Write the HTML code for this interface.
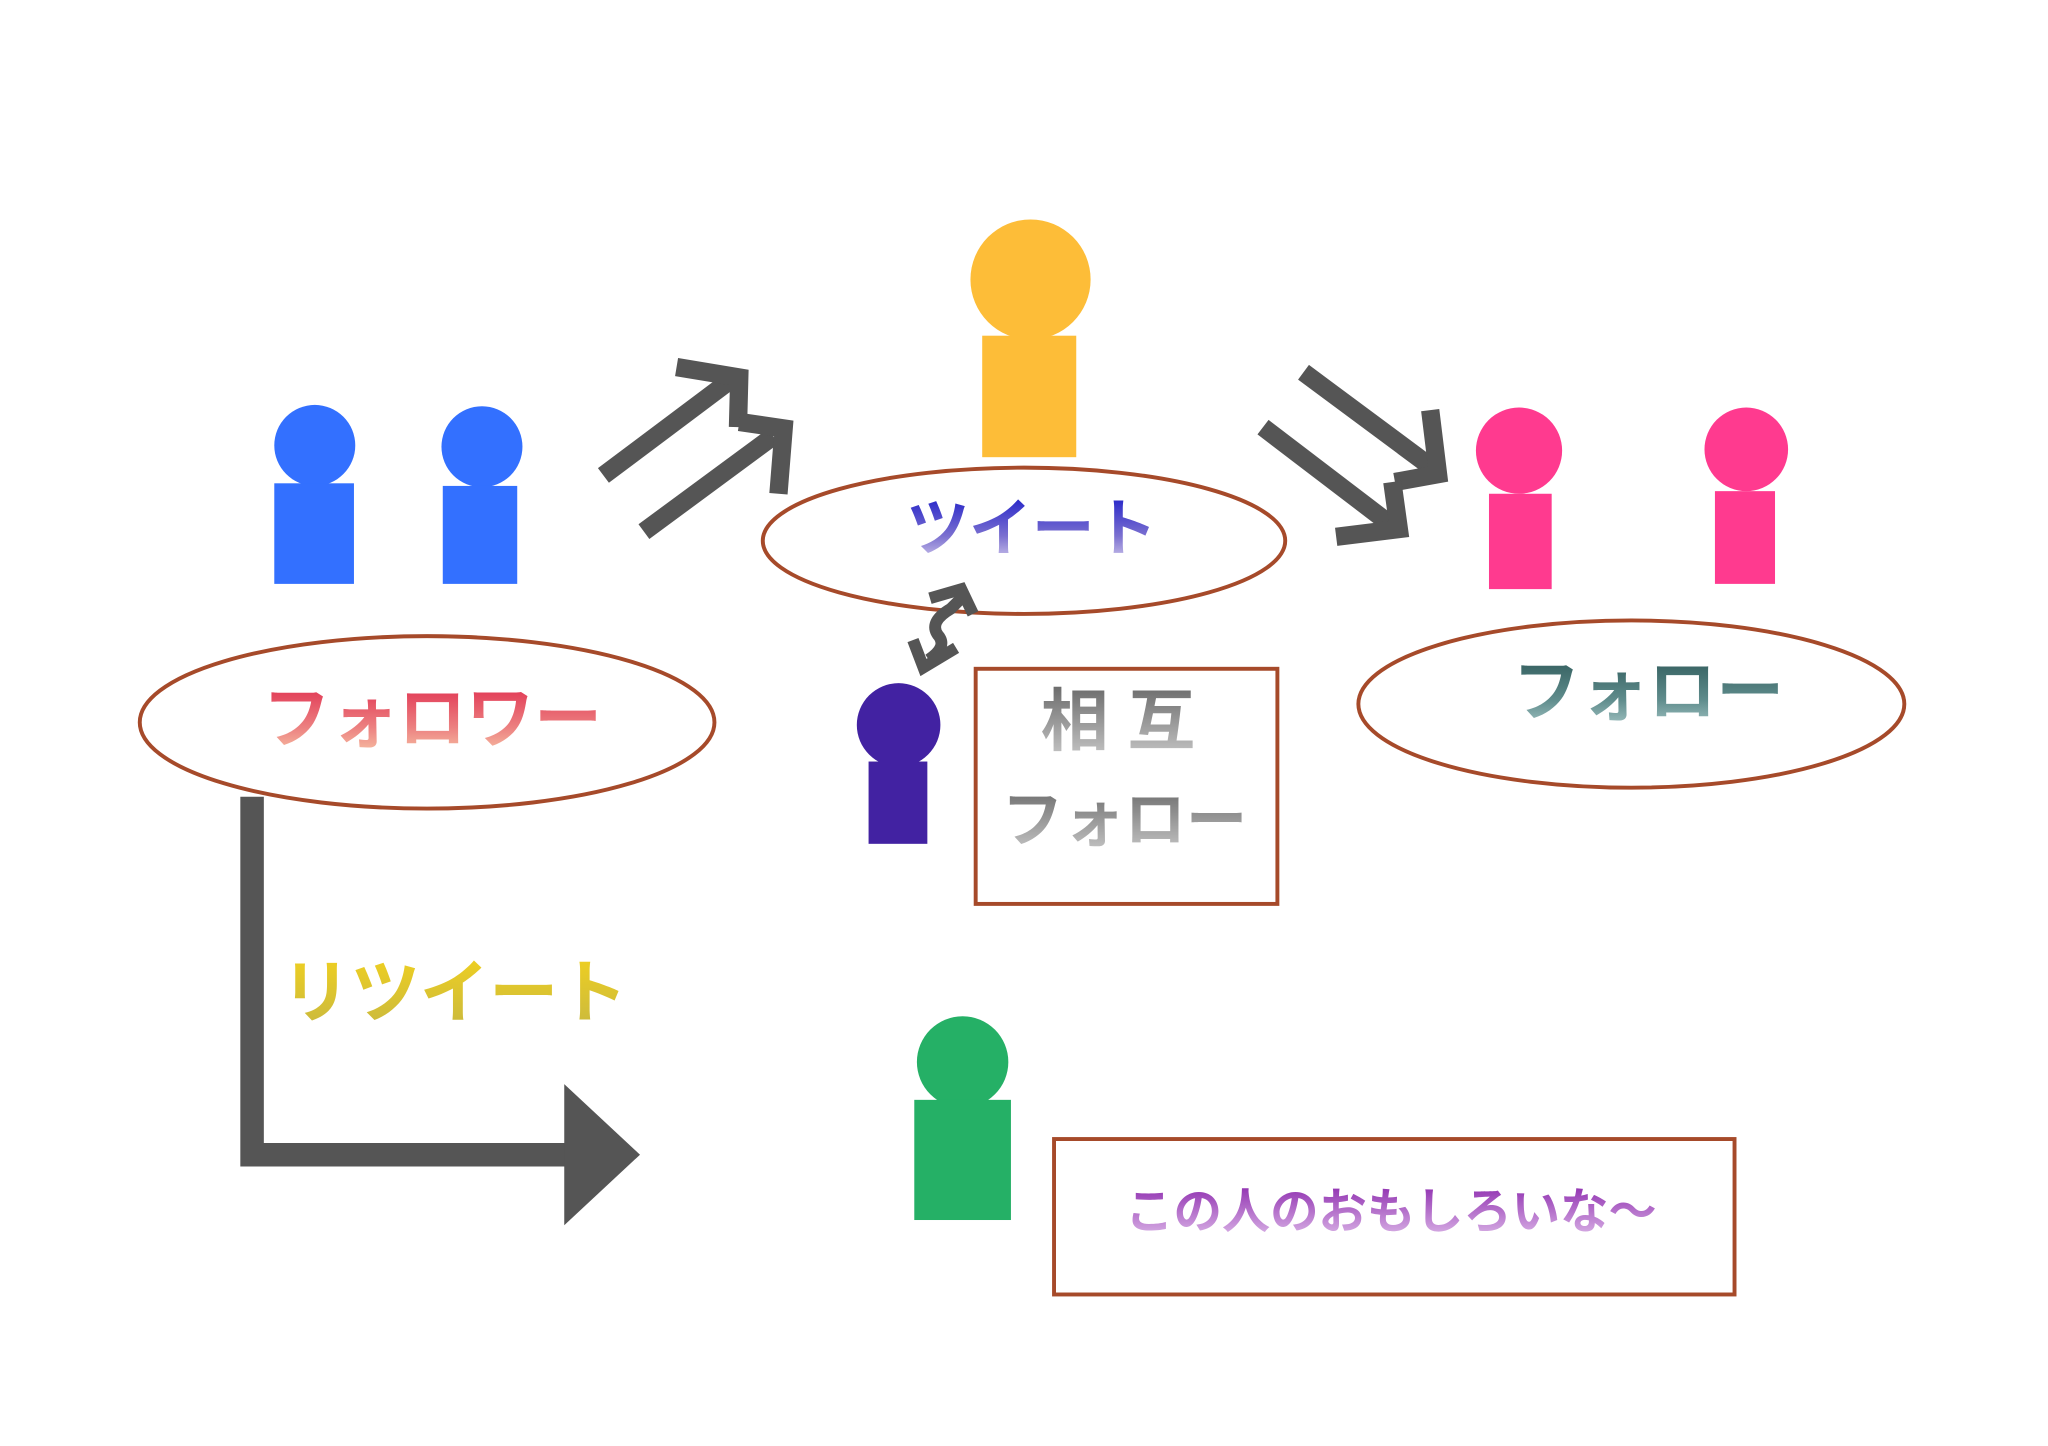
<!DOCTYPE html>
<html><head><meta charset="utf-8"><style>
html,body{margin:0;padding:0;background:#fff;width:2048px;height:1446px;overflow:hidden}
svg{display:block}
text{font-family:"Liberation Sans","Noto Sans CJK JP",sans-serif;text-anchor:middle;dominant-baseline:central;font-weight:bold}
</style></head><body>
<svg width="2048" height="1446" viewBox="0 0 1568 1107" preserveAspectRatio="none" xmlns="http://www.w3.org/2000/svg">
<defs>
<linearGradient id="gBlue" x1="0" y1="0" x2="0" y2="1"><stop offset="0" stop-color="#2020c8"/><stop offset="0.6" stop-color="#7b70d0"/><stop offset="1" stop-color="#d8d0ee"/></linearGradient>
<linearGradient id="gRed" x1="0" y1="0" x2="0" y2="1"><stop offset="0" stop-color="#e03050"/><stop offset="0.6" stop-color="#ec8080"/><stop offset="1" stop-color="#f8c8a8"/></linearGradient>
<linearGradient id="gTeal" x1="0" y1="0" x2="0" y2="1"><stop offset="0" stop-color="#2f5a5a"/><stop offset="0.6" stop-color="#5f8c8c"/><stop offset="1" stop-color="#a8c8c8"/></linearGradient>
<linearGradient id="gGray" x1="0" y1="0" x2="0" y2="1"><stop offset="0" stop-color="#6a6a6a"/><stop offset="1" stop-color="#c8c8c8"/></linearGradient>
<linearGradient id="gYel" x1="0" y1="0" x2="0" y2="1"><stop offset="0" stop-color="#f0d020"/><stop offset="1" stop-color="#c8b840"/></linearGradient>
<linearGradient id="gPur" x1="0" y1="0" x2="0" y2="1"><stop offset="0" stop-color="#9030b0"/><stop offset="1" stop-color="#dcb8e8"/></linearGradient>
</defs>
<g fill="#3370ff">
<circle cx="241" cy="341" r="31"/><rect x="210" y="370" width="61" height="77"/>
<circle cx="369" cy="342" r="31"/><rect x="339" y="372" width="57" height="75"/>
</g>
<g fill="#fdbd38"><circle cx="789" cy="214" r="46"/><rect x="752" y="257" width="72" height="93"/></g>
<g fill="#ff3a8f">
<circle cx="1163" cy="345" r="33"/><rect x="1140" y="378" width="48" height="73"/>
<circle cx="1337" cy="344" r="32"/><rect x="1313" y="376" width="46" height="71"/>
</g>
<g fill="#4222a2"><circle cx="688" cy="555" r="32"/><rect x="665" y="583" width="45" height="63"/></g>
<g fill="#25b066"><circle cx="737" cy="813" r="35"/><rect x="700" y="842" width="74" height="92"/></g>

<g fill="none" stroke="#a64a2a" stroke-width="3">
<ellipse cx="784" cy="414" rx="200" ry="56"/>
<ellipse cx="327" cy="553" rx="220" ry="66"/>
<ellipse cx="1249" cy="539" rx="209" ry="64"/>
<rect x="747" y="512" width="231" height="180"/>
<rect x="807" y="872" width="521" height="119"/>
</g>

<g fill="none" stroke="#555" stroke-width="14" stroke-linejoin="miter">
<line x1="462" y1="364" x2="558" y2="292"/>
<polyline points="518,281 566,289 565,327"/>
<line x1="493" y1="407" x2="592" y2="334"/>
<polyline points="566,323 600,328 596,378"/>
<line x1="998" y1="285" x2="1095" y2="357"/>
<polyline points="1095,314 1101,363 1068,369"/>
<line x1="967" y1="327" x2="1064" y2="401"/>
<polyline points="1066,369 1071,405 1023,411"/>
</g>
<g fill="none" stroke="#555" stroke-width="9">
<path d="M711,505 Q726,495 718,486 Q711,476 728,466 L736,458"/>
<polyline points="712,458 736,451 745,470"/>
<polyline points="699,490 707,511 732,496"/>
</g>
<polyline points="193,610 193,884 438,884" fill="none" stroke="#555" stroke-width="18"/>
<polygon points="432,830 490,884 432,938" fill="#555"/>

<text x="790" y="405" font-size="48" fill="url(#gBlue)">ツイート</text>
<text x="331" y="551" font-size="52" fill="url(#gRed)">フォロワー</text>
<text x="1262" y="530" font-size="52" fill="url(#gTeal)">フォロー</text>
<text x="856" y="553" font-size="52" fill="url(#gGray)">相 互</text>
<text x="861" y="628" font-size="47" fill="url(#gGray)">フォロー</text>
<text x="348" y="760" font-size="53" fill="url(#gYel)">リツイート</text>
<text x="1065" y="928" font-size="37" fill="url(#gPur)">この人のおもしろいな〜</text>
</svg>
</body></html>
